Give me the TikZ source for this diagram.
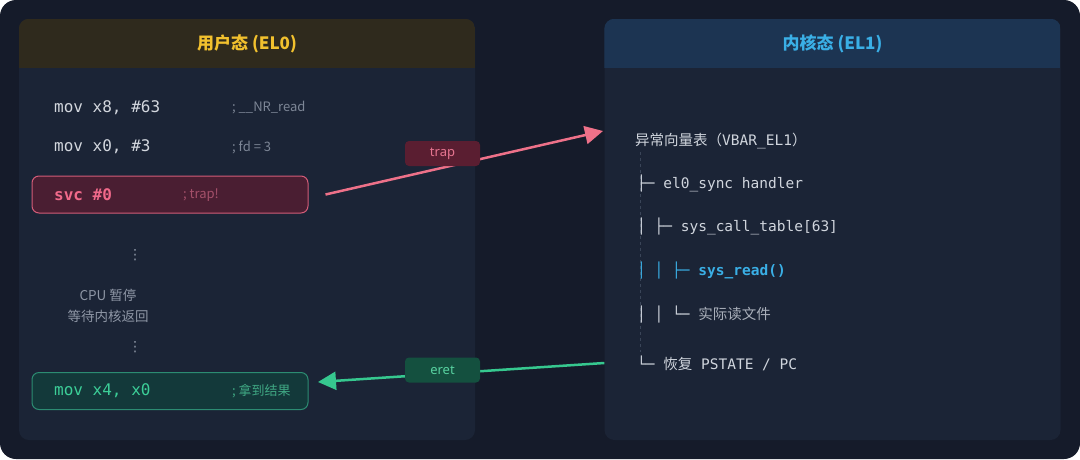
\documentclass[tikz,border=0pt]{standalone}
\usepackage{fontspec}
\setmainfont{Noto Sans}
\setmonofont{DejaVu Sans Mono}
\newfontfamily\cjk{Noto Sans CJK SC}
\newfontfamily\symf{DejaVu Sans}
\usetikzlibrary{positioning,arrows.meta}
\definecolor{canvas}{HTML}{151B2A}
\definecolor{panelbg}{HTML}{1B2436}
\definecolor{userhd}{HTML}{2F2A1D}
\definecolor{useryl}{HTML}{F2C12E}
\definecolor{kernhd}{HTML}{1C3452}
\definecolor{kernbl}{HTML}{3AAFE6}
\definecolor{codefg}{HTML}{D3D7DE}
\definecolor{cmtfg}{HTML}{7D8696}
\definecolor{notefg}{HTML}{8E96A5}
\definecolor{svcbg}{HTML}{4A1E32}
\definecolor{svcline}{HTML}{D35C78}
\definecolor{svcfg}{HTML}{F0698A}
\definecolor{svccmt}{HTML}{A4506A}
\definecolor{retbg}{HTML}{13393A}
\definecolor{retline}{HTML}{2C8C72}
\definecolor{retfg}{HTML}{3CCF98}
\definecolor{retcmt}{HTML}{3FA783}
\definecolor{trapln}{HTML}{EE7189}
\definecolor{traptag}{HTML}{5A1E31}
\definecolor{trapfg}{HTML}{E67590}
\definecolor{eretln}{HTML}{36C88F}
\definecolor{erettag}{HTML}{14503F}
\definecolor{eretfg}{HTML}{58D1A0}
\definecolor{treefg}{HTML}{D0D5DD}
\definecolor{filefg}{HTML}{A9AFBA}
\definecolor{guide}{HTML}{3A4558}

\begin{document}
\begin{tikzpicture}[x=1pt, y=-1pt, >={Triangle[length=18pt,width=18pt]},
    panel/.style={fill=panelbg, rounded corners=10pt, minimum width=456pt,
                  minimum height=421pt, inner sep=0pt},
    head/.style={font=\cjk\bfseries\fontsize{17}{20}\selectfont},
    code/.style={anchor=west, inner sep=0pt, text=codefg,
                 font=\ttfamily\fontsize{16}{19}\selectfont},
    cmt/.style={anchor=west, inner sep=0pt, text=cmtfg,
                font=\cjk\fontsize{13}{15}\selectfont},
    note/.style={align=center, inner sep=0pt, text=notefg,
                 font=\cjk\fontsize{13.5}{21}\selectfont},
    vdots/.style={inner sep=0pt, text=notefg, font=\symf\fontsize{14}{16}\selectfont},
    insn/.style={rounded corners=7pt, minimum width=276pt, minimum height=37pt,
                 line width=1pt, inner sep=0pt},
    tree/.style={anchor=west, inner sep=0pt, text=treefg,
                 font=\ttfamily\fontsize{14.5}{18}\selectfont},
    tag/.style={rounded corners=4pt, minimum width=75pt, minimum height=25pt,
                inner sep=0pt, font=\fontsize{13}{15}\selectfont},
    link/.style={->, line width=2.5pt}]

    % canvas
    \fill[white] (0,0) rectangle (1080,459);
    \fill[canvas, rounded corners=16pt] (0,0) rectangle (1080,459);

    % the two panels
    \node[panel] (user) at (247,229.5) {};
    \node[panel] (kern) at (832.5,229.5) {};
    \begin{scope}
      \clip[rounded corners=10pt] (user.north west) rectangle (user.south east);
      \fill[userhd] (user.north west) rectangle ([yshift=-49pt]user.north east);
    \end{scope}
    \begin{scope}
      \clip[rounded corners=10pt] (kern.north west) rectangle (kern.south east);
      \fill[kernhd] (kern.north west) rectangle ([yshift=-49pt]kern.north east);
    \end{scope}
    \node[head, text=useryl] (userttl) at (247,44) {用户态 (EL0)};
    \node[head, text=kernbl] (kernttl) at (832.5,44) {内核态 (EL1)};

    % user side
    \node[code] (l1) at (54,108) {mov x8, \#63};
    \node[cmt]  (c1) at (232,108) {; \_\_NR\_read};
    \node[code] (l2) at (54,147) {mov x0, \#3};
    \node[cmt]  (c2) at (232,147) {; fd = 3};

    \node[insn, draw=svcline, fill=svcbg] (svc) at (170,194.5) {};
    \node[code, text=svcfg, font=\ttfamily\bfseries\fontsize{16}{19}\selectfont] (l3) at (54,195) {svc \#0};
    \node[cmt, text=svccmt] (c3) at (183,195) {; trap!};

    \node[vdots] (d1) at (135,255) {⋮};
    \node[note]  (wait) at (108,305.5) {CPU 暂停\\等待内核返回};
    \node[vdots] (d2) at (135,347) {⋮};

    \node[insn, draw=retline, fill=retbg] (res) at (170,391) {};
    \node[code, text=retfg] (l4) at (54,391) {mov x4, x0};
    \node[cmt, text=retcmt] (c4) at (232,391) {; 拿到结果};

    % kernel side
    \draw[guide, dash pattern=on 3pt off 3pt] (640,152) -- (640,352);
    \node[tree] (vec)  at (635,141) {{\cjk 异常向量表（}VBAR\_EL1{\cjk ）}};
    \node[tree] (sync) at (637,184) {├─ el0\_sync handler};
    \node[tree] (tbl)  at (637,227) {│ ├─ sys\_call\_table[63]};
    \node[tree, text=kernbl] (rd) at (637,271) {│ │ ├─ \textbf{sys\_read()}};
    \node[tree] (file) at (637,315) {│ │ └─ {\cjk\color{filefg}实际读文件}};
    \node[tree] (rest) at (637,363) {└─ {\cjk 恢复} PSTATE / PC};

    % trap / eret
    \coordinate (trapin) at (603,131);
    \coordinate (eretin) at (318,382);
    \draw[link, trapln] ([xshift=17pt]svc.east) -- (trapin);
    \draw[link, eretln] (kern.west |- rest) -- (eretin);
    \node[tag, fill=traptag, text=trapfg] (traplbl) at (442.5,153.5) {trap};
    \node[tag, fill=erettag, text=eretfg] (eretlbl) at (442.5,370) {eret};
\end{tikzpicture}
\end{document}
